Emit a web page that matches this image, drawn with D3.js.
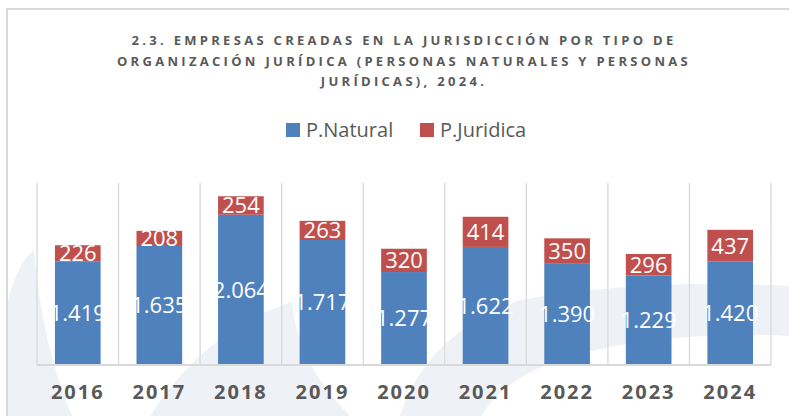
<!DOCTYPE html>
<html>
<head>
<meta charset="utf-8">
<title>Empresas creadas por tipo de organizacion juridica</title>
<script src="https://d3js.org/d3.v7.min.js"></script>
<style>
  body { margin: 0; background: #fff; }
  svg { display: block; }
</style>
</head>
<body>
<div id="chart"></div>
<script>
  // data
  var years    = ["2016", "2017", "2018", "2019", "2020", "2021", "2022", "2023", "2024"];
  var natural  = [1419, 1635, 2064, 1717, 1277, 1622, 1390, 1229, 1420];
  var juridica = [226, 208, 254, 263, 320, 414, 350, 296, 437];
  var seriesNames  = ["P.Natural", "P.Juridica"];
  var seriesColors = ["#4f81bd", "#c0504d"];
  var titleLines = [
    "2.3. EMPRESAS CREADAS EN LA JURISDICCIÓN POR TIPO DE",
    "ORGANIZACIÓN JURÍDICA (PERSONAS NATURALES Y PERSONAS",
    "JURÍDICAS), 2024."
  ];

  var width  = 789;
  var height = 416;
  var plot   = {left: 37, right: 771, top: 183, bottom: 365};
  var grey   = "#595959";
  var gridCol = "#d9d9d9";

  var svg = d3.select("#chart").append("svg")
      .attr("width", width)
      .attr("height", height);

  // faint watermark shapes in the background
  var marks = svg.append("g").attr("fill", "#eef2f7");
  marks.append("path").attr("d", "M8 416 L8 300 Q18 262 34 250 Q42 345 72 416 Z");
  marks.append("path").attr("d", "M150 416 Q205 330 292 302 Q298 365 350 416 Z");
  marks.append("path").attr("d", "M400 416 Q425 335 520 300 Q650 278 789 286 L789 336 Q660 330 565 358 Q500 380 482 416 Z");

  // frame
  svg.append("path")
      .attr("d", "M7 " + height + " L7 9 L" + width + " 9")
      .attr("fill", "none")
      .attr("stroke", gridCol)
      .attr("stroke-width", 2);

  // title
  svg.append("g").selectAll("text").data(titleLines).enter().append("text")
      .attr("x", 404)
      .attr("y", (d, i) => 45 + i * 20.5)
      .attr("text-anchor", "middle")
      .attr("fill", grey)
      .style("font-family", "'Open Sans', sans-serif")
      .style("font-weight", "bold")
      .style("font-size", "13px")
      .style("letter-spacing", "3.3px")
      .text(d => d);

  // legend
  var legendX = [286, 420];
  var legend = svg.append("g").selectAll("g").data(seriesNames).enter().append("g")
      .attr("transform", (d, i) => "translate(" + legendX[i] + ",123)");
  legend.append("rect")
      .attr("width", 14).attr("height", 14)
      .attr("fill", (d, i) => seriesColors[i]);
  legend.append("text")
      .attr("x", 20).attr("y", 14)
      .attr("fill", grey)
      .style("font-family", "'Open Sans', sans-serif")
      .style("font-size", "20px")
      .text(d => d);

  // scales
  var xScale = d3.scaleBand().domain(years)
      .range([plot.left, plot.right])
      .paddingInner(0.44).paddingOuter(0.22);
  var yScale = d3.scaleLinear().domain([0, 2500]).range([plot.bottom, plot.top]);

  // vertical separators between categories
  var seps = d3.range(years.length + 1).map(i => plot.left + i * xScale.step());
  svg.append("g").selectAll("line").data(seps).enter().append("line")
      .attr("x1", d => d).attr("x2", d => d)
      .attr("y1", plot.top).attr("y2", plot.bottom)
      .attr("stroke", gridCol).attr("stroke-width", 1.3);

  // stacked bars
  var rows = years.map((y, i) => ({year: y, nat: natural[i], jur: juridica[i]}));
  var stack = d3.stack().keys(["nat", "jur"])(rows);

  var layers = svg.append("g").selectAll("g").data(stack).enter().append("g")
      .attr("fill", (d, i) => seriesColors[i]);
  layers.selectAll("rect").data(d => d).enter().append("rect")
      .attr("x", d => xScale(d.data.year))
      .attr("width", xScale.bandwidth())
      .attr("y", d => yScale(d[1]))
      .attr("height", d => yScale(d[0]) - yScale(d[1]));

  // value labels
  var fmt = d3.formatLocale({decimal: ",", thousands: ".", grouping: [3], currency: ["", ""]}).format(",");
  layers.selectAll("text").data(d => d).enter().append("text")
      .attr("x", d => xScale(d.data.year) + xScale.bandwidth() / 2)
      .attr("y", d => (yScale(d[0]) + yScale(d[1])) / 2)
      .attr("dy", "0.36em")
      .attr("text-anchor", "middle")
      .attr("fill", "#fff")
      .style("font-family", "'Open Sans', sans-serif")
      .style("font-size", "22px")
      .text(d => fmt(d[1] - d[0]));

  // x axis
  var xAxis = svg.append("g")
      .attr("transform", "translate(0," + plot.bottom + ")")
      .call(d3.axisBottom(xScale).tickSize(0).tickPadding(20));
  xAxis.select(".domain")
      .attr("stroke", gridCol).attr("stroke-width", 2)
      .attr("d", "M" + plot.left + ",0H" + plot.right);
  xAxis.selectAll("text")
      .attr("fill", grey)
      .style("font-family", "'Open Sans', sans-serif")
      .style("font-weight", "bold")
      .style("font-size", "20px")
      .style("letter-spacing", "2px");
</script>
</body>
</html>
